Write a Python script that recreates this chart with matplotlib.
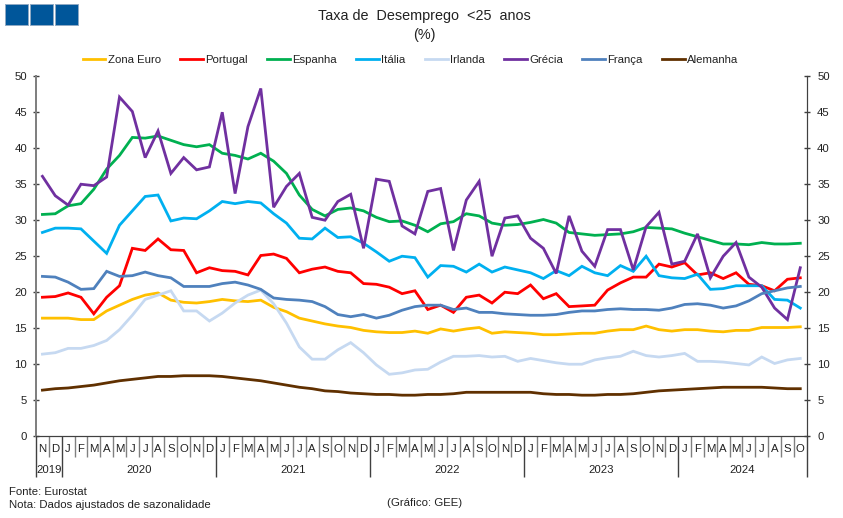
#!/usr/bin/env python
# -*- coding: utf-8 -*-
import matplotlib
matplotlib.use('Agg')
import matplotlib.pyplot as plt
from matplotlib.patches import Rectangle

plt.rcParams['font.family'] = ['Liberation Sans', 'DejaVu Sans']

meses = list('ND') + list('JFMAMJJASOND') * 4 + list('JFMAMJJASO')
anos = ['2019', '2020', '2021', '2022', '2023', '2024']
meses_por_ano = [2, 12, 12, 12, 12, 10]

zona_euro = [16.3,16.3,16.3,16.1,16.1,17.3,18.1,18.9,19.5,19.8,18.8,18.5,18.4,18.6,18.9,18.7,18.6,18.8,17.8,17.2,
             16.3,15.9,15.5,15.2,15.0,14.6,14.4,14.3,14.3,14.5,14.2,14.8,14.5,14.8,15.0,14.2,14.4,14.3,14.2,14.0,
             14.0,14.1,14.2,14.2,14.5,14.7,14.7,15.2,14.7,14.5,14.7,14.7,14.5,14.4,14.6,14.6,15.0,15.0,15.0,15.1]
portugal = [19.2,19.3,19.8,19.2,16.9,19.2,20.8,26.0,25.7,27.3,25.8,25.7,22.6,23.3,22.9,22.8,22.3,25.0,25.2,24.6,
            22.6,23.1,23.4,22.8,22.6,21.1,21.0,20.6,19.7,20.1,17.5,18.1,17.1,19.2,19.5,18.4,19.9,19.7,20.9,19.0,
            19.7,17.9,18.0,18.1,20.2,21.2,22.0,22.0,23.8,23.4,24.0,22.3,22.6,21.8,22.6,21.0,20.8,20.1,21.7,21.9]
espanha = [30.7,30.8,31.9,32.2,34.2,37.0,38.9,41.4,41.3,41.6,41.0,40.4,40.1,40.4,39.2,38.9,38.4,39.2,38.1,36.4,
           33.4,31.4,30.5,31.4,31.6,31.2,30.3,29.7,29.8,29.2,28.3,29.4,29.7,30.8,30.5,29.5,29.2,29.3,29.6,30.0,
           29.5,28.2,28.0,27.8,27.9,28.0,28.3,28.9,28.8,28.7,28.1,27.6,27.1,26.6,26.6,26.5,26.8,26.6,26.6,26.7]
italia = [28.2,28.8,28.8,28.7,27.0,25.3,29.2,31.2,33.2,33.4,29.8,30.2,30.1,31.2,32.5,32.2,32.5,32.3,30.8,29.5,
          27.4,27.3,28.8,27.5,27.6,26.7,25.5,24.2,24.9,24.7,22.0,23.6,23.5,22.7,23.8,22.7,23.4,23.0,22.6,21.8,
          22.9,22.2,23.5,22.6,22.2,23.6,22.8,24.9,22.2,21.9,21.8,22.4,20.3,20.4,20.8,20.8,20.8,18.9,18.8,17.7]
irlanda = [11.3,11.5,12.1,12.1,12.5,13.2,14.7,16.7,18.9,19.5,20.1,17.3,17.3,15.9,17.0,18.4,19.5,20.2,18.3,15.6,
           12.3,10.6,10.6,11.9,12.9,11.5,9.8,8.5,8.7,9.1,9.2,10.2,11.0,11.0,11.1,10.9,11.0,10.3,10.7,10.4,
           10.1,9.9,9.9,10.5,10.8,11.0,11.7,11.1,10.9,11.1,11.4,10.3,10.3,10.2,10.0,9.8,10.9,10.0,10.5,10.7]
grecia = [36.0,33.3,32.0,34.9,34.7,35.9,47.0,45.0,38.6,42.3,36.4,38.6,36.9,37.3,44.9,33.6,42.9,48.2,31.7,34.6,
          36.4,30.3,29.9,32.5,33.5,26.0,35.6,35.3,29.1,28.0,33.9,34.3,25.7,32.7,35.3,24.9,30.2,30.5,27.4,26.0,
          22.5,30.5,25.6,23.5,28.6,28.6,23.0,29.0,31.0,23.8,24.2,28.0,21.9,24.9,26.8,22.0,20.6,17.7,16.1,23.3]
franca = [22.1,22.0,21.3,20.3,20.4,22.8,22.1,22.2,22.7,22.2,21.9,20.7,20.7,20.7,21.1,21.3,20.9,20.3,19.1,18.9,
          18.8,18.6,17.9,16.8,16.5,16.8,16.3,16.7,17.4,17.9,18.1,18.1,17.5,17.7,17.1,17.1,16.9,16.8,16.7,16.7,
          16.8,17.1,17.3,17.3,17.5,17.6,17.5,17.5,17.4,17.7,18.2,18.3,18.1,17.7,18.0,18.7,19.7,20.1,20.5,20.7]
alemanha = [6.3,6.5,6.6,6.8,7.0,7.3,7.6,7.8,8.0,8.2,8.2,8.3,8.3,8.3,8.2,8.0,7.8,7.6,7.3,7.0,
            6.7,6.5,6.2,6.1,5.9,5.8,5.7,5.7,5.6,5.6,5.7,5.7,5.8,6.0,6.0,6.0,6.0,6.0,6.0,5.8,
            5.7,5.7,5.6,5.6,5.7,5.7,5.8,6.0,6.2,6.3,6.4,6.5,6.6,6.7,6.7,6.7,6.7,6.6,6.5,6.5]

series = [('Zona Euro', zona_euro, '#FFC000'), ('Portugal', portugal, '#FF0000'),
          ('Espanha', espanha, '#00B050'), ('Itália', italia, '#00B0F0'),
          ('Irlanda', irlanda, '#C6D9F1'), ('Grécia', grecia, '#7030A0'),
          ('França', franca, '#4F81BD'), ('Alemanha', alemanha, '#603000')]

W, H = 843.0, 518.0
fs = 8.2
cinza = '#808080'
escuro = '#404040'

fig = plt.figure(figsize=(W / 100, H / 100), dpi=100)
ax = fig.add_axes([36 / W, 1 - 435.5 / H, 770.7 / W, 360 / H])

x = list(range(len(meses)))
for nome, vals, cor in series:
    ax.plot(x, vals, color=cor, lw=2.0, label=nome, solid_joinstyle='miter', clip_on=False)

ax.set_xlim(-0.5, len(meses) - 0.5)
ax.set_ylim(0, 50)
ax.set_yticks(range(0, 51, 5))
ax.tick_params(axis='y', direction='inout', length=5, width=1, color=escuro,
               labelsize=fs, labelcolor='#222222', pad=4)

ax2 = ax.twinx()
ax2.set_ylim(0, 50)
ax2.set_yticks(range(0, 51, 5))
ax2.tick_params(axis='y', direction='inout', length=5, width=1, color=escuro,
                labelsize=fs, labelcolor='#222222', pad=5)

for a in (ax, ax2):
    a.spines['top'].set_visible(False)
    a.spines['left'].set_color(cinza)
    a.spines['left'].set_linewidth(1.4)
    a.spines['right'].set_color(escuro)
    a.spines['bottom'].set_color(escuro)

# separadores dos meses e dos anos
limites = [-0.5]
for n in meses_por_ano:
    limites.append(limites[-1] + n)
ax.set_xticks(limites)
ax.set_xticks([i - 0.5 for i in x], minor=True)
ax.set_xticklabels([])
ax.tick_params(axis='x', which='major', length=29.5, width=1, color=escuro)
ax.tick_params(axis='x', which='minor', length=15, width=1, color=cinza)

for i, m in enumerate(meses):
    ax.text(i, -1.9, m, ha='center', va='center', fontsize=fs, color='#222222')
for k, ano in enumerate(anos):
    ax.text((limites[k] + limites[k + 1]) / 2, -4.8, ano, ha='center', va='center',
            fontsize=fs, color='#222222')

fig.text(424 / W, 1 - 16 / H, 'Taxa de  Desemprego  <25  anos', ha='center', va='center',
         fontsize=10.4, color='#222222')
fig.text(424 / W, 1 - 35 / H, '(%)', ha='center', va='center', fontsize=10.4, color='#222222')

h, l = ax.get_legend_handles_labels()
fig.legend(h, l, ncol=8, loc='center', bbox_to_anchor=(410.5 / W, 1 - 60 / H), frameon=False,
           fontsize=fs, handlelength=2.0, handletextpad=0.2, columnspacing=1.7,
           labelcolor='#222222', borderpad=0)

fig.text(9 / W, 1 - 492 / H, 'Fonte: Eurostat', va='center', fontsize=fs, color='#222222')
fig.text(9 / W, 1 - 505 / H, 'Nota: Dados ajustados de sazonalidade', va='center', fontsize=fs, color='#222222')
fig.text(387 / W, 1 - 503 / H, '(Gráfico: GEE)', va='center', fontsize=fs, color='#222222')

# logotipo
for x0 in (5, 30, 55):
    fig.add_artist(Rectangle((x0 / W, 1 - 24.5 / H), 23 / W, 20 / H, transform=fig.transFigure,
                             facecolor='#00569A', edgecolor='#8FA9C4', lw=0.7))

fig.savefig('out.png', dpi=100)
